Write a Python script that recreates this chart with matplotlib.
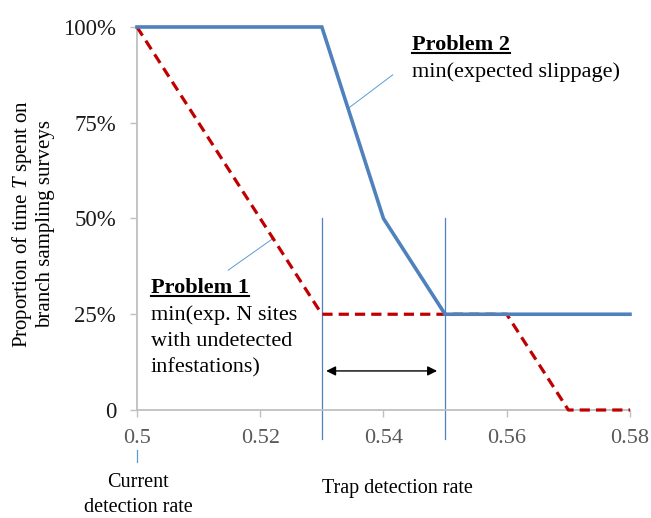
import matplotlib
matplotlib.use('Agg')
import matplotlib.pyplot as plt
from matplotlib.lines import Line2D

# Data
trap_rate = [0.50, 0.53, 0.54, 0.55, 0.58]
problem2_share = [1.00, 1.00, 0.50, 0.25, 0.25]
trap_rate_p1 = [0.50, 0.53, 0.56, 0.57, 0.58]
problem1_share = [1.00, 0.25, 0.25, 0.00, 0.00]
x_ticks = [0.50, 0.52, 0.54, 0.56, 0.58]
x_tick_labels = ['0.5', '0.52', '0.54', '0.56', '0.58']
y_ticks = [0, 0.25, 0.5, 0.75, 1.0]
y_tick_labels = ['0', '25%', '50%', '75%', '100%']
range_bounds = [0.53, 0.55]
current_rate = 0.50

plt.rcParams['font.family'] = ['Liberation Serif', 'DejaVu Serif']
plt.rcParams['mathtext.fontset'] = 'custom'
plt.rcParams['mathtext.it'] = 'Liberation Serif:italic'
plt.rcParams['mathtext.rm'] = 'Liberation Serif'

fig = plt.figure(figsize=(6.51, 5.18), dpi=100)
ax = fig.add_axes([0.2104, 0.2085, 0.7573, 0.7394])

# Lines
ax.plot(trap_rate_p1, problem1_share, color='#C00000', linewidth=2.3,
        linestyle=(0, (3.2, 1.9)), clip_on=False, zorder=3)
ax.plot(trap_rate, problem2_share, color='#4F81BD', linewidth=2.6,
        clip_on=False, zorder=4, solid_joinstyle='miter')

# Vertical marker lines
for xv in range_bounds:
    ax.plot([xv, xv], [0.5, -0.075], color='#4F81BD', linewidth=0.9,
            clip_on=False, zorder=2)
ax.plot([current_rate, current_rate], [-0.104, -0.136], color='#5B9BD5',
        linewidth=0.9, clip_on=False)

# Double arrow between the bounds
ax.annotate('', xy=(0.5307, 0.102), xytext=(0.5487, 0.102),
            arrowprops=dict(arrowstyle='<|-|>', color='black', lw=1.0,
                            mutation_scale=14, shrinkA=0, shrinkB=0))

# Leader lines
ax.plot([0.5221, 0.5148], [0.448, 0.365], color='#5B9BD5', linewidth=0.7)
ax.plot([0.5344, 0.5415], [0.789, 0.875], color='#5B9BD5', linewidth=0.7)

# Annotation texts
t2 = ax.text(0.5446, 0.940, 'Problem 2', fontsize=16, fontweight='bold',
             va='baseline', ha='left')
ax.text(0.5446, 0.869, 'min(expected slippage)', fontsize=16,
        va='baseline', ha='left')
t1 = ax.text(0.50227, 0.3055, 'Problem 1', fontsize=16, fontweight='bold',
             va='baseline', ha='left')
ax.text(0.50227, 0.235, 'min(exp. N sites', fontsize=16, va='baseline')
ax.text(0.50227, 0.167, 'with undetected', fontsize=16, va='baseline')
ax.text(0.50227, 0.099, 'infestations)', fontsize=16, va='baseline')

# Axes styling
ax.set_xlim(0.50, 0.58)
ax.set_ylim(0, 1.0)
ax.set_xticks(x_ticks)
ax.set_xticklabels(x_tick_labels)
ax.set_yticks(y_ticks)
ax.set_yticklabels(y_tick_labels)
for side in ['top', 'right']:
    ax.spines[side].set_visible(False)
for side in ['left', 'bottom']:
    ax.spines[side].set_color('#BFBFBF')
    ax.spines[side].set_linewidth(1.3)
ax.tick_params(axis='x', direction='out', length=5, width=1.0,
               color='#BFBFBF', labelsize=16, labelcolor='#595959', pad=9)
ax.tick_params(axis='y', direction='out', length=5, width=1.0,
               color='#BFBFBF', labelsize=16.5, labelcolor='#1a1a1a', pad=10)

# Axis titles
fig.text(0.0505, 0.5676, 'Proportion of time $T$ spent on\nbranch sampling surveys',
         rotation=90, ha='center', va='center', fontsize=15,
         linespacing=1.15)
fig.text(397 / 651, 1 - 493 / 518, 'Trap detection rate', ha='center',
         va='baseline', fontsize=14.5)
fig.text(138 / 651, 1 - 487 / 518, 'Current', ha='center', va='baseline',
         fontsize=14.5)
fig.text(138 / 651, 1 - 512 / 518, 'detection rate', ha='center',
         va='baseline', fontsize=14.5)

# Underline the bold headings
fig.canvas.draw()
renderer = fig.canvas.get_renderer()
for t in (t1, t2):
    bb = t.get_window_extent(renderer)
    base = ax.transData.transform((0, t.get_position()[1]))[1]
    y_line = (base - 3) / fig.bbox.height
    fig.add_artist(Line2D([bb.x0 / fig.bbox.width, bb.x1 / fig.bbox.width],
                          [y_line, y_line], color='black', linewidth=1.5))

fig.savefig('out.png', dpi=100)
plt.close(fig)
